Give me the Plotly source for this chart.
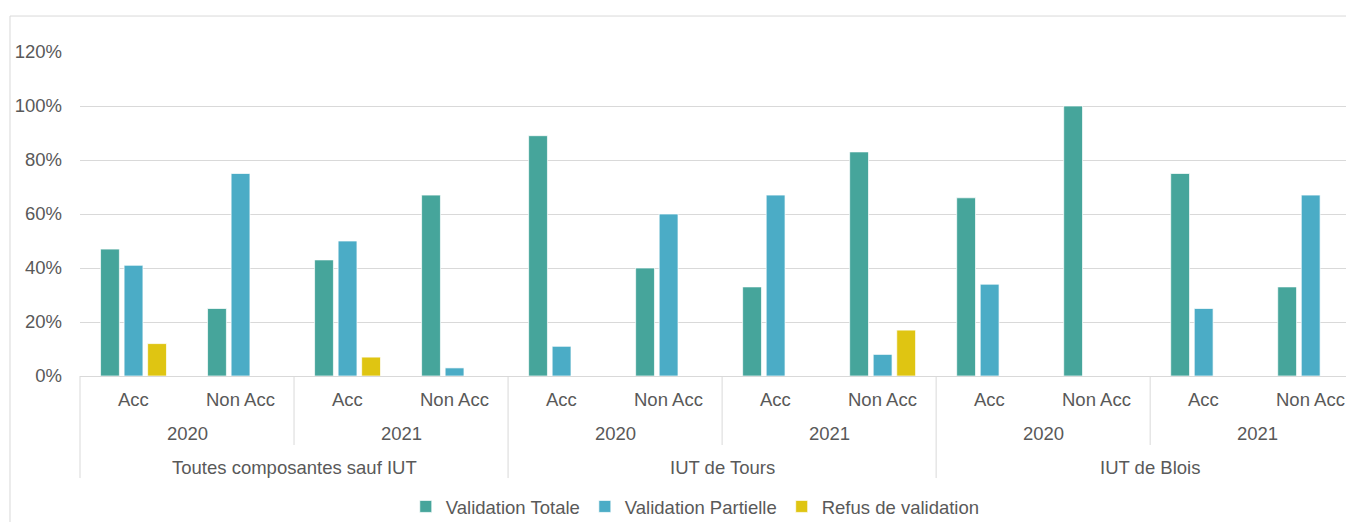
import plotly.graph_objects as go

# ---- data ----
groups = ["Toutes composantes sauf IUT", "IUT de Tours", "IUT de Blois"]
years = ["2020", "2021"]
statuses = ["Acc", "Non Acc"]

validation_totale = [47, 25, 43, 67, 89, 40, 33, 83, 66, 100, 75, 33]
validation_partielle = [41, 75, 50, 3, 11, 60, 67, 8, 34, None, 25, 67]
refus_validation = [12, None, 7, None, None, None, None, 17, None, None, None, None]

series_names = ["Validation Totale", "Validation Partielle", "Refus de validation"]
colors = ["#46A59B", "#4BACC6", "#DFC512"]

y_ticks = [0, 20, 40, 60, 80, 100, 120]

# ---- derived category positions ----
n_cat = len(groups) * len(years) * len(statuses)
x_pos = list(range(n_cat))
x_range = [-0.5, 11.33]

TXT = "#595959"
GRID = "#D9D9D9"
FONT = "Liberation Sans, Arial, sans-serif"
FS = 18.5

fig = go.Figure()
for name, vals, col in zip(series_names,
                           [validation_totale, validation_partielle, refus_validation],
                           colors):
    fig.add_trace(go.Bar(
        x=x_pos,
        y=[None if v is None else v / 100 for v in vals],
        name=name,
        marker=dict(color=col, line=dict(color="rgba(255,255,255,0.7)", width=1)),
    ))


def px(xv):
    return (xv - x_range[0]) / (x_range[1] - x_range[0])


annotations = []
shapes = []
# level 1: Acc / Non Acc
for i in range(n_cat):
    annotations.append(dict(x=i, y=-0.071, xref="x", yref="paper", text=statuses[i % 2],
                            showarrow=False, yanchor="middle",
                            font=dict(size=FS, color=TXT, family=FONT)))
# level 2: years
for j in range(len(groups) * len(years)):
    annotations.append(dict(x=2 * j + 0.5, y=-0.176, xref="x", yref="paper",
                            text=years[j % 2], showarrow=False, yanchor="middle",
                            font=dict(size=FS, color=TXT, family=FONT)))
# level 3: groups
for g, name in enumerate(groups):
    annotations.append(dict(x=4 * g + 1.5, y=-0.281, xref="x", yref="paper",
                            text=name, showarrow=False, yanchor="middle",
                            font=dict(size=FS, color=TXT, family=FONT)))

# separators
for k in range(0, n_cat, 2):
    xv = k - 0.5
    deep = (k % 4 == 0)
    p = px(xv)
    if 0 <= p <= 1:
        shapes.append(dict(type="line", xref="paper", yref="paper",
                           x0=p, x1=p, y0=0, y1=-0.315 if deep else -0.213,
                           line=dict(color=GRID, width=1)))

# outer chart border
shapes.append(dict(type="rect", xref="paper", yref="paper",
                   x0=-0.0553, x1=1.05, y0=-0.6, y1=1.111,
                   line=dict(color=GRID, width=1), fillcolor="rgba(0,0,0,0)", layer="below"))

fig.update_layout(
    width=1346, height=522,
    margin=dict(l=80, r=0, t=52, b=146, autoexpand=False),
    paper_bgcolor="white", plot_bgcolor="white",
    barmode="group", bargap=0.34, bargroupgap=0.2,
    font=dict(family=FONT, size=FS, color=TXT),
    showlegend=True,
    legend=dict(orientation="h", x=0.486, xanchor="center", y=-0.404, yanchor="middle",
                font=dict(size=FS, color=TXT, family=FONT), itemwidth=30,
                traceorder="normal"),
    annotations=annotations,
    shapes=shapes,
    xaxis=dict(range=x_range, showticklabels=False, showgrid=False, zeroline=False,
               showline=True, linecolor=GRID, linewidth=1, ticks=""),
    yaxis=dict(range=[0, 1.2], tickvals=[v / 100 for v in y_ticks],
               ticktext=[f"{v}%" for v in y_ticks],
               showgrid=True, gridcolor=GRID, gridwidth=1, zeroline=False,
               showline=False, ticks="", ticklabelstandoff=17,
               tickfont=dict(size=FS, color=TXT, family=FONT)),
)

fig.write_html(
    "out.html",
    config={"displayModeBar": False},
    post_script="document.body.style.margin='0';document.body.style.overflow='hidden';",
)
